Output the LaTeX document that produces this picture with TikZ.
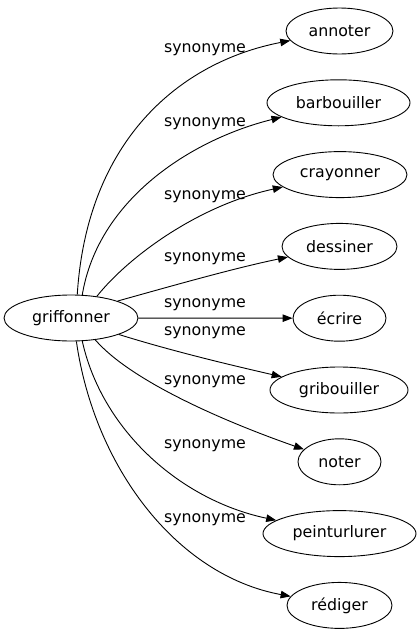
\documentclass[tikz,border=0pt]{standalone}
\usepackage{fontspec}
\setmainfont{DejaVu Sans}
\usetikzlibrary{shapes.geometric,arrows.meta}
\begin{document}
\begin{tikzpicture}[x=1pt,y=-1pt,
  every node/.style={font=\fontsize{15.8}{19}\selectfont},
  term/.style={draw, ellipse, line width=0.9pt, inner sep=0pt, minimum height=46pt},
  lbl/.style={inner sep=0pt},
  rel/.style={line width=0.9pt, -{Triangle[length=10pt,width=7.5pt]}}]
\useasboundingbox (0,0) rectangle (420,635);
\node[term, minimum width=134pt] (g) at (71,318) {griffonner};
\node[term, minimum width=107pt] (t1) at (339.5,31) {annoter};
\node[term, minimum width=143pt] (t2) at (338.5,102.8) {barbouiller};
\node[term, minimum width=134pt] (t3) at (340,174.6) {crayonner};
\node[term, minimum width=115pt] (t4) at (339.5,246.4) {dessiner};
\node[term, minimum width=93pt] (t5) at (339.5,318.2) {écrire};
\node[term, minimum width=138pt] (t6) at (339,390) {gribouiller};
\node[term, minimum width=83pt] (t7) at (339.5,461.8) {noter};
\node[term, minimum width=153pt] (t8) at (339.5,533.6) {peinturlurer};
\node[term, minimum width=105pt] (t9) at (339.5,605.4) {rédiger};

\draw[rel] (g.75) .. controls (87,140) and (180,62) .. (t1);
\draw[rel] (g.64) .. controls (98,200) and (190,140) .. (t2);
\draw[rel] (g.40) .. controls (130,255) and (200,205) .. (t3);
\draw[rel] (g.20) .. controls (175,285) and (235,268) .. (t4);
\draw[rel] (g) -- (t5);
\draw[rel] (g.-19) .. controls (175,352) and (235,366) .. (t6);
\draw[rel] (g.-42) .. controls (130,380) and (220,420) .. (t7);
\draw[rel] (g.-64) .. controls (102,430) and (180,500) .. (t8);
\draw[rel] (g.-77) .. controls (94,465) and (175,575) .. (t9);

\node[lbl] (l1) at (205,50) {synonyme};
\node[lbl] (l2) at (205,124) {synonyme};
\node[lbl] (l3) at (205,197) {synonyme};
\node[lbl] (l4) at (205,259) {synonyme};
\node[lbl] (l5) at (205,305) {synonyme};
\node[lbl] (l6) at (205,333) {synonyme};
\node[lbl] (l7) at (205,382) {synonyme};
\node[lbl] (l8) at (205,446) {synonyme};
\node[lbl] (l9) at (205,520) {synonyme};
\end{tikzpicture}
\end{document}
